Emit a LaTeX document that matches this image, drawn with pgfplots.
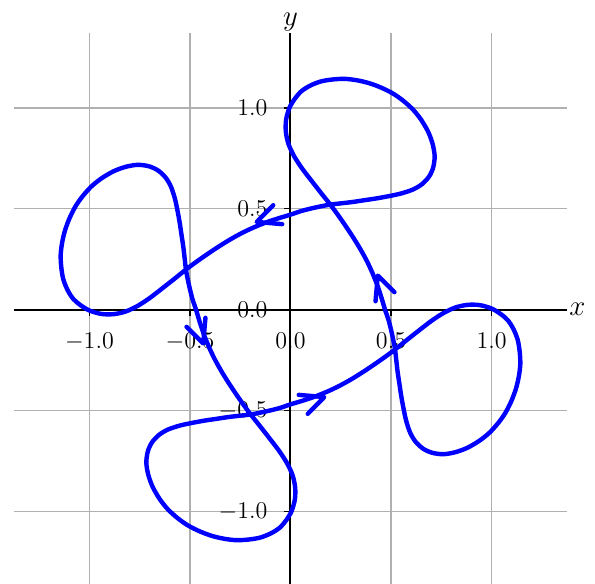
\documentclass[border=0pt]{standalone}
\usepackage{pgfplots}
\pgfplotsset{compat=1.18}
\definecolor{curveblue}{HTML}{0000FF}
\definecolor{gridgray}{HTML}{B0B0B0}

\begin{document}
\begin{tikzpicture}
\begin{axis}[
  scale only axis, width=276pt, height=276pt,
  xmin=-1.375, xmax=1.375, ymin=-1.37, ymax=1.37,
  axis lines=middle, axis line style={-, line width=1pt},
  xtick={-1,-0.5,0,0.5,1}, ytick={-1,-0.5,0,0.5,1},
  hide obscured x ticks=false, hide obscured y ticks=false,
  grid=major, grid style={gridgray, line width=0.8pt},
  tick align=outside, major tick length=3pt, tick style={black, line width=0.8pt},
  ticklabel style={font=\large},
  /pgf/number format/fixed, /pgf/number format/fixed zerofill, /pgf/number format/precision=1,
  xticklabel style={yshift=-5pt}, yticklabel style={xshift=-5pt},
  xlabel={$x$}, ylabel={$y$},
  xlabel style={at={(axis cs:1.375,0)}, anchor=west, font=\Large, inner sep=1pt},
  ylabel style={at={(axis cs:0,1.37)}, anchor=south, font=\Large, inner sep=1pt},
  clip=false,
]
\coordinate (SW) at (rel axis cs:0,0);
\coordinate (NE) at (rel axis cs:1,1);

% the closed curve, traced quarter by quarter (top, left, bottom, right loop)
\addplot[curveblue, line width=2.2pt, smooth, tension=0.5, line cap=round, line join=round] coordinates {
 (0.47,0) (0.452,0.06) (0.432,0.12) (0.408,0.18) (0.38,0.24) (0.347,0.30) (0.31,0.36) (0.27,0.42)
 (0.235,0.47) (0.198,0.52) (0.15,0.58) (0.103,0.64) (0.057,0.70) (0.018,0.76) (-0.01,0.82) (-0.023,0.88)
 (-0.022,0.94) (-0.005,1.00) (0.022,1.045) (0.052,1.08) (0.095,1.108) (0.15,1.13) (0.21,1.14) (0.27,1.143)
 (0.33,1.136) (0.39,1.122) (0.45,1.1) (0.51,1.07) (0.56,1.035) (0.61,0.99) (0.65,0.94) (0.685,0.88)
 (0.707,0.82) (0.717,0.76) (0.71,0.705) (0.69,0.66) (0.655,0.622) (0.61,0.595) (0.55,0.575) (0.49,0.562)
 (0.43,0.551) (0.37,0.542) (0.31,0.533) (0.25,0.526) (0.198,0.52) (0.15,0.511) (0.10,0.5) (0.05,0.487)
 (0,0.47) (-0.06,0.452) (-0.12,0.432) (-0.18,0.408) (-0.24,0.38) (-0.30,0.347) (-0.36,0.31) (-0.42,0.27)
 (-0.47,0.235) (-0.52,0.198) (-0.58,0.15) (-0.64,0.103) (-0.70,0.057) (-0.76,0.018) (-0.82,-0.01) (-0.88,-0.023)
 (-0.94,-0.022) (-1.00,-0.005) (-1.045,0.022) (-1.08,0.052) (-1.108,0.095) (-1.13,0.15) (-1.14,0.21) (-1.143,0.27)
 (-1.136,0.33) (-1.122,0.39) (-1.1,0.45) (-1.07,0.51) (-1.035,0.56) (-0.99,0.61) (-0.94,0.65) (-0.88,0.685)
 (-0.82,0.707) (-0.76,0.717) (-0.705,0.71) (-0.66,0.69) (-0.622,0.655) (-0.595,0.61) (-0.575,0.55) (-0.562,0.49)
 (-0.551,0.43) (-0.542,0.37) (-0.533,0.31) (-0.526,0.25) (-0.52,0.198) (-0.511,0.15) (-0.5,0.10) (-0.487,0.05)
 (-0.47,0) (-0.452,-0.06) (-0.432,-0.12) (-0.408,-0.18) (-0.38,-0.24) (-0.347,-0.30) (-0.31,-0.36) (-0.27,-0.42)
 (-0.235,-0.47) (-0.198,-0.52) (-0.15,-0.58) (-0.103,-0.64) (-0.057,-0.70) (-0.018,-0.76) (0.01,-0.82) (0.023,-0.88)
 (0.022,-0.94) (0.005,-1.00) (-0.022,-1.045) (-0.052,-1.08) (-0.095,-1.108) (-0.15,-1.13) (-0.21,-1.14) (-0.27,-1.143)
 (-0.33,-1.136) (-0.39,-1.122) (-0.45,-1.1) (-0.51,-1.07) (-0.56,-1.035) (-0.61,-0.99) (-0.65,-0.94) (-0.685,-0.88)
 (-0.707,-0.82) (-0.717,-0.76) (-0.71,-0.705) (-0.69,-0.66) (-0.655,-0.622) (-0.61,-0.595) (-0.55,-0.575) (-0.49,-0.562)
 (-0.43,-0.551) (-0.37,-0.542) (-0.31,-0.533) (-0.25,-0.526) (-0.198,-0.52) (-0.15,-0.511) (-0.10,-0.5) (-0.05,-0.487)
 (0,-0.47) (0.06,-0.452) (0.12,-0.432) (0.18,-0.408) (0.24,-0.38) (0.30,-0.347) (0.36,-0.31) (0.42,-0.27)
 (0.47,-0.235) (0.52,-0.198) (0.58,-0.15) (0.64,-0.103) (0.70,-0.057) (0.76,-0.018) (0.82,0.01) (0.88,0.023)
 (0.94,0.022) (1.00,0.005) (1.045,-0.022) (1.08,-0.052) (1.108,-0.095) (1.13,-0.15) (1.14,-0.21) (1.143,-0.27)
 (1.136,-0.33) (1.122,-0.39) (1.1,-0.45) (1.07,-0.51) (1.035,-0.56) (0.99,-0.61) (0.94,-0.65) (0.88,-0.685)
 (0.82,-0.707) (0.76,-0.717) (0.705,-0.71) (0.66,-0.69) (0.622,-0.655) (0.595,-0.61) (0.575,-0.55) (0.562,-0.49)
 (0.551,-0.43) (0.542,-0.37) (0.533,-0.31) (0.526,-0.25) (0.52,-0.198) (0.511,-0.15) (0.5,-0.10) (0.487,-0.05)
 (0.47,0) (0.452,0.06) (0.432,0.12)
};

% arrow heads
\addplot[curveblue, line width=2.2pt, line cap=round, line join=round] coordinates {(0.517,0.086) (0.434,0.168) (0.423,0.041)};
\addplot[curveblue, line width=2.2pt, line cap=round, line join=round] coordinates {(-0.086,0.517) (-0.168,0.434) (-0.041,0.423)};
\addplot[curveblue, line width=2.2pt, line cap=round, line join=round] coordinates {(-0.517,-0.086) (-0.434,-0.168) (-0.423,-0.041)};
\addplot[curveblue, line width=2.2pt, line cap=round, line join=round] coordinates {(0.086,-0.517) (0.168,-0.434) (0.041,-0.423)};
\end{axis}
\pgfresetboundingbox
\path[use as bounding box] ([xshift=-7pt,yshift=1pt]SW) rectangle ([xshift=14pt,yshift=16.5pt]NE);
\end{tikzpicture}
\end{document}
